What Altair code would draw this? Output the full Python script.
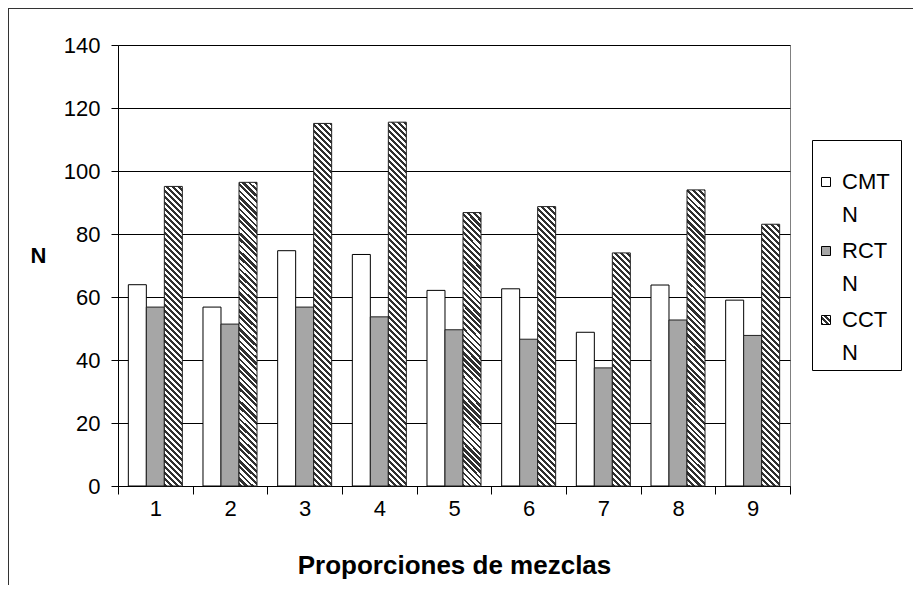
import altair as alt
import pandas as pd

# ---------------- data ----------------
mezclas = [1, 2, 3, 4, 5, 6, 7, 8, 9]
cmt_n = [63.9, 56.8, 74.7, 73.5, 62.1, 62.6, 48.8, 63.8, 59.0]
rct_n = [56.8, 51.4, 56.8, 53.7, 49.6, 46.6, 37.5, 52.7, 47.8]
cct_n = [95.1, 96.4, 115.1, 115.5, 86.8, 88.7, 74.0, 94.0, 83.1]
series = ["CMT", "RCT", "CCT"]
y_ticks = [0, 20, 40, 60, 80, 100, 120, 140]
x_title = "Proporciones de mezclas"
y_title = "N"

rows = []
for i, m in enumerate(mezclas):
    rows.append({"mezcla": m, "serie": "CMT", "valor": cmt_n[i]})
    rows.append({"mezcla": m, "serie": "RCT", "valor": rct_n[i]})
    rows.append({"mezcla": m, "serie": "CCT", "valor": cct_n[i]})
df = pd.DataFrame(rows)

# ---------------- layout ----------------
W, H = 672, 441
YMAX = 140
PAD = {"left": 110, "top": 37, "right": 123, "bottom": 99}
FONT = "Liberation Sans"
GRAY = "#a6a6a6"
DARK = "#303030"
BAR_W = W / len(mezclas) / (3 + 2 * 0.574)


def hatch(w, h, period=6.0, dark=DARK, light="#ffffff"):
    """Diagonal '\\' stripes as a bounding-box linear gradient."""
    k = (w + h) / (w * w + h * h)
    x2 = k * w
    y2 = 1 - k * h
    p = period / (w + h)
    stops = []
    t = 0.0
    while t < 1:
        a = round(t, 5)
        b = round(min(t + p / 2, 1), 5)
        c = round(min(t + p, 1), 5)
        stops += [
            {"offset": a, "color": dark},
            {"offset": b, "color": dark},
            {"offset": b, "color": light},
            {"offset": c, "color": light},
        ]
        t += p
    return {"gradient": "linear", "x1": 0, "y1": 1, "x2": round(x2, 5),
            "y2": round(y2, 5), "stops": stops}


xscale = alt.Scale(paddingInner=0, paddingOuter=0)
xoff_scale = alt.Scale(domain=series, paddingInner=0, paddingOuter=0.574)
yscale = alt.Scale(domain=[0, YMAX], nice=False, zero=True)

xaxis = alt.Axis(labelAngle=0, tickBand="extent", tickSize=8, labelPadding=4,
                 labelFont=FONT, labelFontSize=22, titleFont=FONT,
                 titleFontSize=26, titleFontWeight="bold",
                 titleBaseline="middle", titleY=79, grid=False)
yaxis = alt.Axis(values=y_ticks, tickSize=7, labelPadding=11, labelFont=FONT,
                 labelFontSize=22, titleFont=FONT, titleFontSize=22,
                 titleFontWeight="bold", titleAngle=0, titleAlign="center",
                 titleBaseline="middle", titleX=-80, titleY=210, grid=True)

base = alt.Chart(df).encode(
    x=alt.X("mezcla:O", scale=xscale, axis=xaxis, title=x_title),
    xOffset=alt.XOffset("serie:N", scale=xoff_scale),
    y=alt.Y("valor:Q", scale=yscale, axis=yaxis, title=y_title),
)

layers = [
    base.transform_filter(alt.datum.serie == "CMT").mark_bar(
        fill="white", stroke="black", strokeWidth=1),
    base.transform_filter(alt.datum.serie == "RCT").mark_bar(
        fill=GRAY, stroke="#202020", strokeWidth=1),
]
for i, m in enumerate(mezclas):
    h = cct_n[i] * H / YMAX
    layers.append(
        base.transform_filter((alt.datum.serie == "CCT") & (alt.datum.mezcla == m))
        .mark_bar(fill=hatch(BAR_W, h), stroke="#202020", strokeWidth=1)
    )

one = pd.DataFrame({"a": [0]})
# chart-area frame (top and left edges visible in the reference)
layers.append(alt.Chart(one).mark_rule(color="#333333", strokeWidth=1).encode(
    x=alt.value(-PAD["left"] + 0.5), y=alt.value(-PAD["top"]),
    y2=alt.value(H + PAD["bottom"])))
layers.append(alt.Chart(one).mark_rule(color="#333333", strokeWidth=1).encode(
    x=alt.value(-PAD["left"]), x2=alt.value(W + PAD["right"]),
    y=alt.value(-PAD["top"] + 0.5)))

main = alt.layer(*layers)

# ---------------- legend ----------------
leg_df = pd.DataFrame({"serie": series})
leg_y = alt.Y("serie:N", scale=alt.Scale(type="point", domain=series,
                                          range=[137, 275], padding=0), axis=None)
leg_base = alt.Chart(leg_df).encode(y=leg_y)
leg_fills = {"CMT": "white", "RCT": GRAY, "CCT": hatch(9, 9, period=5.5)}
leg_layers = [
    alt.Chart(one).mark_rect(fill="white", stroke="black", strokeWidth=1).encode(
        x=alt.value(694.5), x2=alt.value(783.5), y=alt.value(95.5), y2=alt.value(325.5))
]
for s in series:
    leg_layers.append(
        leg_base.transform_filter(alt.datum.serie == s).mark_point(
            shape="square", size=81, filled=True, fill=leg_fills[s],
            stroke="black", strokeWidth=1, opacity=1).encode(x=alt.value(708))
    )
leg_layers.append(leg_base.mark_text(align="left", baseline="middle", font=FONT,
                                     fontSize=22, color="black").encode(
    x=alt.value(724), text="serie:N"))
leg_layers.append(leg_base.mark_text(align="left", baseline="middle", font=FONT,
                                     fontSize=22, color="black", dy=33).encode(
    x=alt.value(724), text=alt.value("N")))
legend = alt.layer(*leg_layers)

chart = alt.layer(main, legend).resolve_scale(y="independent").properties(
    width=W, height=H, autosize=alt.AutoSizeParams(type="none"), padding=PAD,
    background="white",
).configure_view(stroke="#808080", strokeWidth=1).configure_axis(
    domainColor="black", tickColor="black", gridColor="black", gridWidth=1,
    labelColor="black", titleColor="black", domainWidth=1, tickWidth=1,
)

chart.save("out.html", embed_options={"renderer": "svg", "actions": False})
